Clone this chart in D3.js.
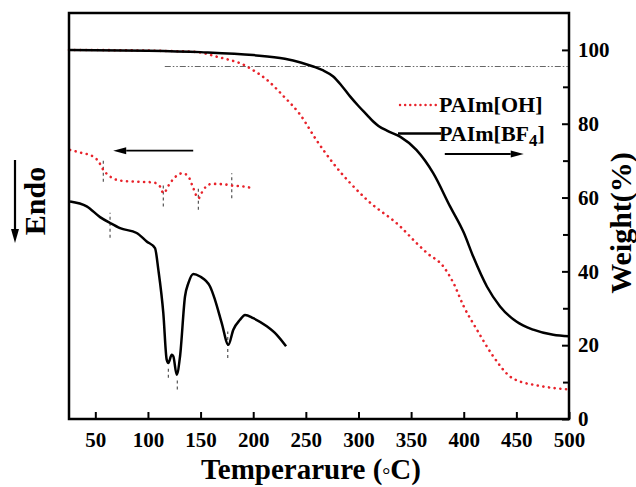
<!DOCTYPE html>
<html><head><meta charset="utf-8">
<script src="https://cdn.jsdelivr.net/npm/d3@7"></script>
<style>
html,body{margin:0;padding:0;background:#fff;}
text{font-family:"Liberation Serif","Times New Roman",serif;font-weight:bold;fill:#000;}
</style></head>
<body>
<svg id="chart" width="636" height="487"></svg>
<script>
// ---- Data ----
// TGA: weight (%) vs temperature (°C)
const tgaBF4T = [25, 100, 150, 200, 230, 245, 257, 266, 276, 284, 292, 300, 308, 314, 319, 328, 339.5, 355, 371, 387, 400, 409, 422, 434.5, 450, 466, 485, 500];
const tgaBF4W = [100, 99.8, 99.4, 98.6, 97.6, 96.6, 95.5, 94.5, 92.8, 90.3, 87.4, 84.8, 82.4, 80.6, 79.4, 78, 76.5, 72.9, 66.6, 57.6, 50.5, 44, 35.9, 30.5, 26.4, 24.2, 22.8, 22.4];
const tgaOHT = [25, 100, 143, 155, 165, 176, 187.5, 200, 213, 229, 244.5, 260, 276, 308, 339.5, 355, 365, 380.7, 390.3, 400, 412.5, 428, 444, 455, 466, 485, 500];
const tgaOHW = [100, 99.8, 99.5, 99, 98.2, 97.4, 96.4, 94.5, 91.9, 87.4, 82.5, 75.6, 69.3, 59.4, 52.2, 47.7, 45, 41.3, 36.8, 30.5, 24.2, 17, 11.5, 10, 9.3, 8.4, 8.0];
// DSC: heat flow (arbitrary units, plotted against the same vertical range)
const dscOHT = [26, 35.5, 48, 53, 57.6, 64, 73.5, 89.3, 105, 111.5, 114.6, 121, 127.3, 133, 138.4, 143, 147.9, 152.6, 160.6, 171.6, 181, 190.6, 198.6];
const dscOHV = [72.9, 72.2, 71.1, 69.8, 67.5, 65.7, 64.6, 64.3, 64.1, 63, 61.2, 63.9, 65.9, 66.6, 65.7, 62.6, 59.8, 62.1, 63.7, 63.6, 63.2, 63, 62.6];
const dscBF4T = [26, 41.8, 54.5, 64, 73.5, 89.3, 98.8, 106.7, 109.9, 114.6, 117.8, 119.4, 122.6, 124.1, 127.3, 130.5, 135.2, 138.4, 143.1, 149.5, 159, 163.7, 170.1, 176.4, 181.1, 187.5, 192.2, 200.1, 212.9, 222.4, 231.2];
const dscBF4V = [58.9, 57.6, 54.7, 53.1, 51.7, 50.4, 48.1, 46.3, 40.4, 28.7, 16.1, 15.2, 17.4, 17, 12, 17, 33.2, 36.8, 39.3, 38.6, 35.9, 32.3, 26, 20.1, 24.2, 26.9, 28.2, 27.3, 25.1, 22.8, 19.7];
// DSC transition markers (temperature, low value, high value)
const markOHT = [57.6, 114.6, 147.9, 179.6];
const markOHLo = [64.3, 57.6, 56.7, 59.8];
const markOHHi = [70.8, 64.1, 63, 66.6];
const markBF4T = [64, 119.4, 127.9, 175.8];
const markBF4Lo = [49.1, 11.2, 8, 16.5];
const markBF4Hi = [55.9, 14.4, 10.6, 23.7];
// 5% weight-loss reference line
const refLineT = [116, 500];
const refLineW = 95.5;
// axis ticks
const xTicks = [50, 100, 150, 200, 250, 300, 350, 400, 450, 500];
const yTicks = [0, 20, 40, 60, 80, 100];
const yMinorTicks = [10, 30, 50, 70, 90];
const seriesNames = ["PAIm[OH]", "PAIm[BF", "4", "]"];
const xTitleParts = ["Temperarure (", "\u00B0", "C)"];

// ---- Layout ----
const W = 636, H = 487;
const m = {left: 69, right: 67, top: 13, bottom: 68};
const pw = W - m.left - m.right, ph = H - m.top - m.bottom;
const RED = "#e8232b";

const svg = d3.select("#chart");
const x = d3.scaleLinear().domain([25, 500]).range([m.left, m.left + pw]);
const y = d3.scaleLinear().domain([0, 110]).range([m.top + ph, m.top]);

const g = svg.append("g");

// reference dash-dot line
g.append("line")
  .attr("x1", x(refLineT[0])).attr("x2", x(refLineT[1]))
  .attr("y1", y(refLineW)).attr("y2", y(refLineW))
  .attr("stroke", "#666").attr("stroke-width", 1.2)
  .attr("stroke-dasharray", "6,2,1.5,2,1.5,2");

const line = d3.line().x(d => x(d[0])).y(d => y(d[1])).curve(d3.curveMonotoneX);
const zip = (a, b) => a.map((v, i) => [v, b[i]]);

// markers
function markers(T, lo, hi) {
  g.append("g").selectAll("line").data(T).join("line")
    .attr("x1", d => x(d)).attr("x2", d => x(d))
    .attr("y1", (d, i) => y(lo[i])).attr("y2", (d, i) => y(hi[i]))
    .attr("stroke", "#555").attr("stroke-width", 1.2)
    .attr("stroke-dasharray", "3,3");
}
markers(markOHT, markOHLo, markOHHi);
markers(markBF4T, markBF4Lo, markBF4Hi);

// red dotted curves
const dotted = {stroke: RED, "stroke-width": 2.6, "stroke-dasharray": "0.1,5.6", "stroke-linecap": "round", fill: "none"};
function applyStyle(sel, st) { for (const k in st) sel.attr(k, st[k]); return sel; }

applyStyle(g.append("path").attr("d", line(zip(tgaOHT, tgaOHW))), dotted);
applyStyle(g.append("path").attr("d", line(zip(dscOHT, dscOHV))), dotted);

// black solid curves
const solid = {stroke: "#000", "stroke-width": 2.5, fill: "none", "stroke-linejoin": "round"};
applyStyle(g.append("path").attr("d", line(zip(tgaBF4T, tgaBF4W))), solid);
applyStyle(g.append("path").attr("d", line(zip(dscBF4T, dscBF4V))), solid);

// frame
svg.append("rect").attr("x", m.left).attr("y", m.top).attr("width", pw).attr("height", ph)
  .attr("fill", "none").attr("stroke", "#000").attr("stroke-width", 2.5);

// x axis
const xa = svg.append("g").attr("transform", `translate(0,${m.top + ph})`)
  .call(d3.axisBottom(x).tickValues(xTicks).tickSize(-7).tickPadding(13).tickFormat(d3.format("d")));
xa.select(".domain").remove();
xa.selectAll("line").attr("stroke-width", 2);
xa.selectAll("text").style("font-size", "21px").attr("font-family", null);

// right axis
const ya = svg.append("g").attr("transform", `translate(${m.left + pw},0)`)
  .call(d3.axisRight(y).tickValues(yTicks).tickSize(-7).tickPadding(9).tickFormat(d3.format("d")));
ya.select(".domain").remove();
ya.selectAll("line").attr("stroke-width", 2);
ya.selectAll("text").style("font-size", "21px").attr("font-family", null);
const ym = svg.append("g").attr("transform", `translate(${m.left + pw},0)`)
  .call(d3.axisRight(y).tickValues(yMinorTicks).tickSize(-6).tickFormat(""));
ym.select(".domain").remove();
ym.selectAll("line").attr("stroke-width", 2);

// x axis title built from three pieces (degree ring sits at mid-height)
const xtA = svg.append("text").attr("y", 479).style("font-size", "29px").text(xTitleParts[0]);
const xtB = svg.append("text").attr("y", 482).style("font-size", "20px").style("font-weight", "normal").text(xTitleParts[1]);
const xtC = svg.append("text").attr("y", 479).style("font-size", "29px").text(xTitleParts[2]);
const wA = xtA.node().getComputedTextLength(), wB = xtB.node().getComputedTextLength(), wC = xtC.node().getComputedTextLength();
const x0 = 311 - (wA + wB + wC) / 2;
xtA.attr("x", x0); xtB.attr("x", x0 + wA); xtC.attr("x", x0 + wA + wB);

svg.append("text").attr("transform", "translate(631,223) rotate(-90)").attr("text-anchor", "middle")
  .style("font-size", "30px").text("Weight(%)");
svg.append("text").attr("transform", "translate(45,201) rotate(-90)").attr("text-anchor", "middle")
  .style("font-size", "30px").text("Endo");

// arrows
function arrow(x1, y1, x2, y2, w, hl, hw) {
  const ang = Math.atan2(y2 - y1, x2 - x1);
  const bx = x2 - hl * Math.cos(ang), by = y2 - hl * Math.sin(ang);
  svg.append("line").attr("x1", x1).attr("y1", y1).attr("x2", bx).attr("y2", by)
    .attr("stroke", "#000").attr("stroke-width", w);
  const px = -Math.sin(ang) * hw / 2, py = Math.cos(ang) * hw / 2;
  svg.append("path").attr("d", `M${x2},${y2}L${bx + px},${by + py}L${bx - px},${by - py}Z`).attr("fill", "#000");
}
arrow(15, 160, 15, 243, 2.2, 14, 8);
arrow(x(143), y(72.7), x(67), y(72.7), 1.8, 13, 7);
arrow(x(382), y(71.8), x(457), y(71.8), 1.8, 13, 7);

// legend
svg.append("line").attr("x1", 400).attr("x2", 436).attr("y1", 105).attr("y2", 105)
  .attr("stroke", RED).attr("stroke-width", 2.4).attr("stroke-dasharray", "0.1,5").attr("stroke-linecap", "round");
svg.append("text").attr("x", 439).attr("y", 112).style("font-size", "22px").text(seriesNames[0]);
svg.append("line").attr("x1", 398).attr("x2", 441).attr("y1", 133.5).attr("y2", 133.5)
  .attr("stroke", "#000").attr("stroke-width", 2.4);
const t2 = svg.append("text").attr("x", 439).attr("y", 141).style("font-size", "22px");
t2.append("tspan").text(seriesNames[1]);
t2.append("tspan").attr("dy", 5).style("font-size", "17px").text(seriesNames[2]);
t2.append("tspan").attr("dy", -5).text(seriesNames[3]);
</script>
</body></html>
